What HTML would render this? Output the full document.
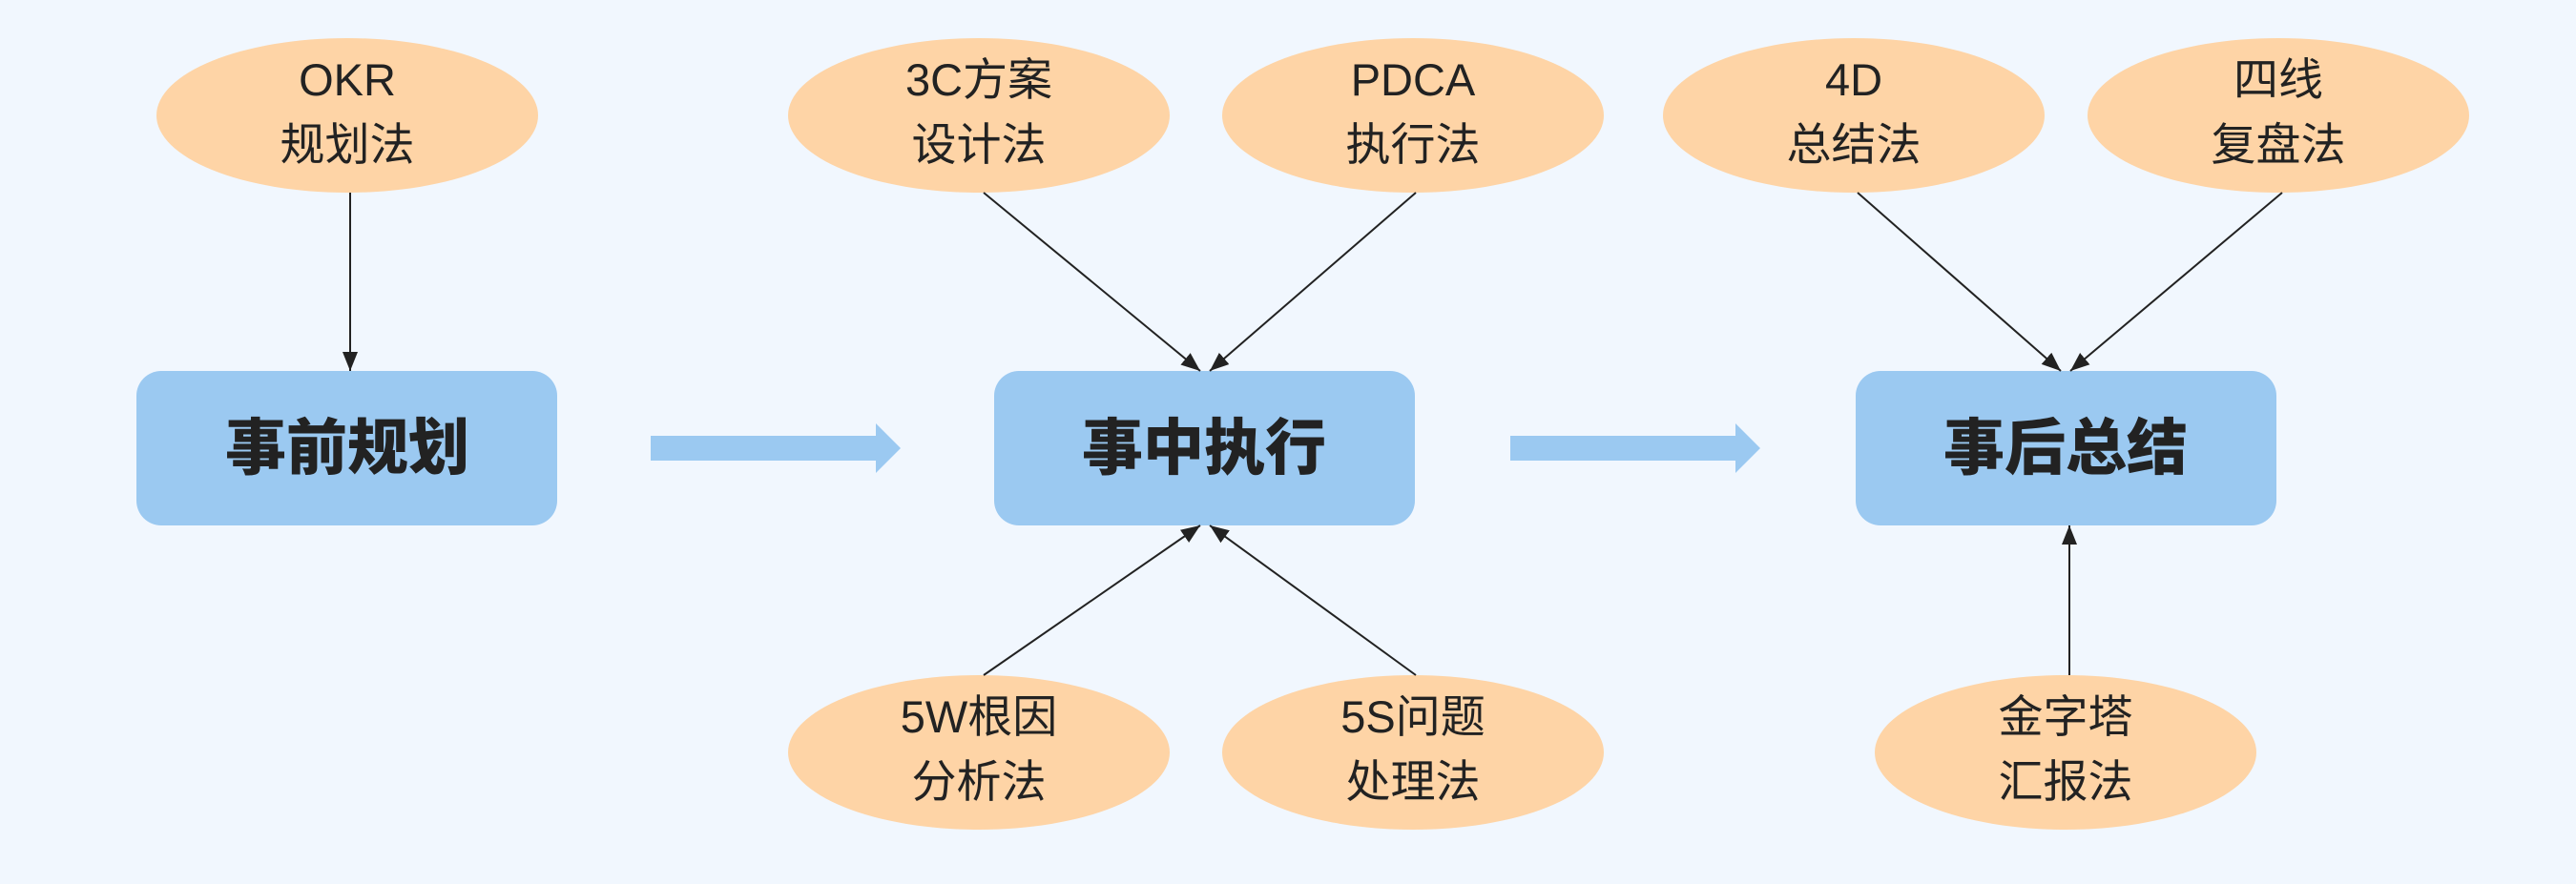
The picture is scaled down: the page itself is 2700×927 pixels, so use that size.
<!DOCTYPE html>
<html><head><meta charset="utf-8"><style>
html,body{margin:0;padding:0;background:#f1f7fe;}
svg{display:block}
.e{fill:#fed4a6}
.b{fill:#9bc9f1}
.t{font-family:"Liberation Sans","Noto Sans CJK SC",sans-serif;font-size:47px;fill:#222;text-anchor:middle}
.bt{font-family:"Liberation Sans","Noto Sans CJK SC",sans-serif;font-size:64px;font-weight:900;fill:#222;text-anchor:middle}
.l{stroke:#222;stroke-width:2;fill:none}
</style></head><body>
<svg width="2700" height="927" viewBox="0 0 2700 927" xmlns="http://www.w3.org/2000/svg">
<defs><marker id="a" viewBox="0 0 10 10" refX="10" refY="5" markerWidth="10" markerHeight="10" markerUnits="userSpaceOnUse" orient="auto"><path d="M0,0 L10,5 L0,10 z" fill="#222"/></marker>
<marker id="a2" viewBox="0 0 10 10" refX="10" refY="5" markerWidth="20" markerHeight="20" markerUnits="userSpaceOnUse" orient="auto"><path d="M0,1 L10,5 L0,9 z" fill="#222"/></marker></defs>
<rect width="2700" height="927" fill="#f1f7fe"/>
<!-- boxes -->
<rect class="b" x="143" y="389" width="441" height="162" rx="26"/>
<rect class="b" x="1042" y="389" width="441" height="162" rx="26"/>
<rect class="b" x="1945" y="389" width="441" height="162" rx="26"/>
<text class="bt" x="364" y="492">事前规划</text>
<text class="bt" x="1262" y="492">事中执行</text>
<text class="bt" x="2165" y="492">事后总结</text>
<!-- big arrows -->
<polygon fill="#9bc9f1" points="682,457 918,457 918,444 944,470 918,496 918,483 682,483"/>
<polygon fill="#9bc9f1" points="1583,457 1819,457 1819,444 1845,470 1819,496 1819,483 1583,483"/>
<!-- ellipses -->
<ellipse class="e" cx="364" cy="121" rx="200" ry="81"/>
<ellipse class="e" cx="1026" cy="121" rx="200" ry="81"/>
<ellipse class="e" cx="1481" cy="121" rx="200" ry="81"/>
<ellipse class="e" cx="1943" cy="121" rx="200" ry="81"/>
<ellipse class="e" cx="2388" cy="121" rx="200" ry="81"/>
<ellipse class="e" cx="1026" cy="789" rx="200" ry="81"/>
<ellipse class="e" cx="1481" cy="789" rx="200" ry="81"/>
<ellipse class="e" cx="2165" cy="789" rx="200" ry="81"/>
<g class="t">
<text x="364" y="100">OKR</text><text x="364" y="168">规划法</text>
<text x="1026" y="100">3C方案</text><text x="1026" y="168">设计法</text>
<text x="1481" y="100">PDCA</text><text x="1481" y="168">执行法</text>
<text x="1943" y="100">4D</text><text x="1943" y="168">总结法</text>
<text x="2388" y="100">四线</text><text x="2388" y="168">复盘法</text>
<text x="1026" y="768">5W根因</text><text x="1026" y="836">分析法</text>
<text x="1481" y="768">5S问题</text><text x="1481" y="836">处理法</text>
<text x="2165" y="768">金字塔</text><text x="2165" y="836">汇报法</text>
</g>
<!-- connectors -->
<line class="l" x1="367" y1="202" x2="367" y2="389" marker-end="url(#a2)"/>
<line class="l" x1="1031" y1="202" x2="1258" y2="389" marker-end="url(#a2)"/>
<line class="l" x1="1484" y1="202" x2="1268" y2="389" marker-end="url(#a2)"/>
<line class="l" x1="1031" y1="708" x2="1258" y2="551" marker-end="url(#a2)"/>
<line class="l" x1="1484" y1="708" x2="1268" y2="551" marker-end="url(#a2)"/>
<line class="l" x1="1947" y1="202" x2="2160" y2="389" marker-end="url(#a2)"/>
<line class="l" x1="2392" y1="202" x2="2170" y2="389" marker-end="url(#a2)"/>
<line class="l" x1="2169" y1="708" x2="2169" y2="551" marker-end="url(#a2)"/>
</svg>
</body></html>
